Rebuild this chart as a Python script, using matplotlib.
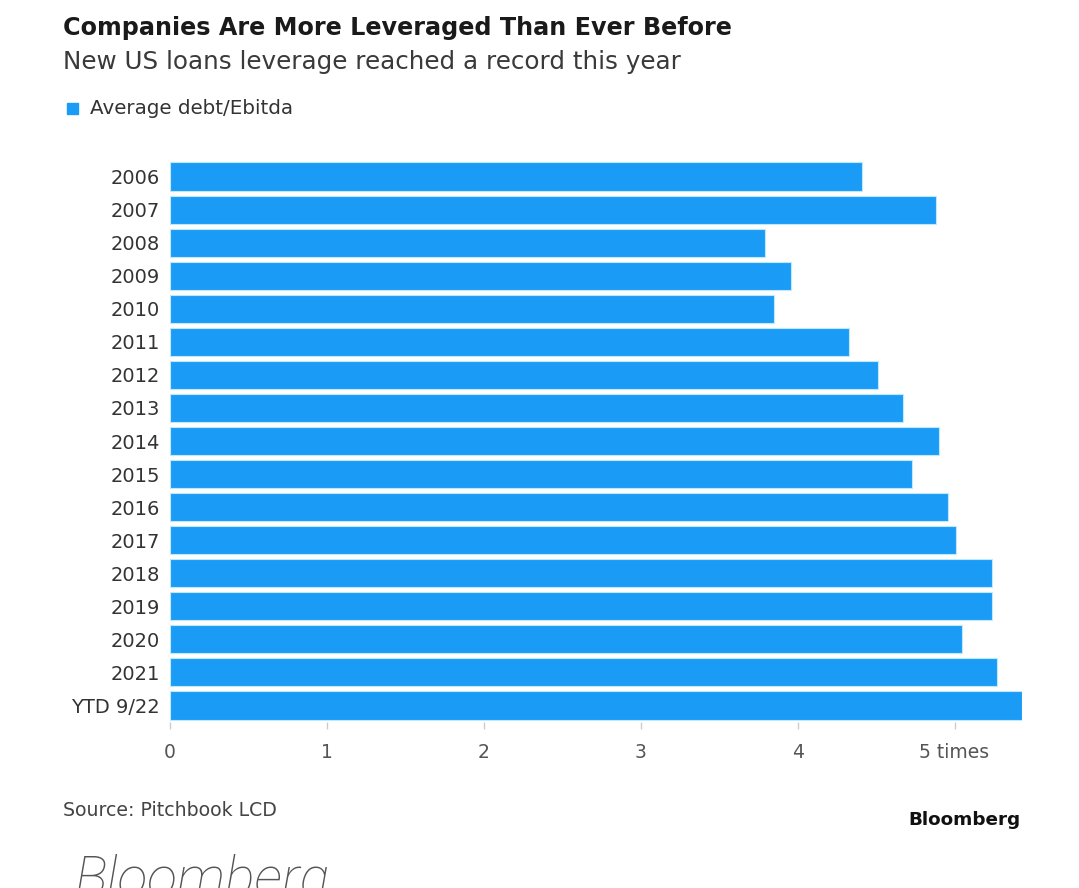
import matplotlib.pyplot as plt

years = ['2006', '2007', '2008', '2009', '2010', '2011', '2012', '2013', '2014',
         '2015', '2016', '2017', '2018', '2019', '2020', '2021', 'YTD 9/22']
leverage = [4.41, 4.88, 3.79, 3.96, 3.85, 4.33, 4.51, 4.67, 4.90,
            4.73, 4.96, 5.01, 5.24, 5.24, 5.05, 5.27, 5.43]
xticks = [0, 1, 2, 3, 4, 5]
xtick_labels = ['0', '1', '2', '3', '4', '5 times']

bar_color = '#1a9bf6'
plt.rcParams['font.family'] = ['DejaVu Sans']

fig = plt.figure(figsize=(10.79, 8.88), dpi=100)
W, H = 1079, 888
ax = fig.add_axes([170 / W, 1 - 722 / H, (1022 - 170) / W, (722 - 160) / H])

pos = list(range(len(years)))
ax.barh(pos, leverage, height=0.85, color=bar_color, edgecolor='#bfe9ff', linewidth=0.8)
ax.set_ylim(len(years) - 0.5, -0.5)
ax.set_xlim(0, 5.43)
ax.set_yticks(pos)
ax.set_yticklabels(years, fontsize=14, color='#333333')
ax.set_xticks(xticks)
ax.set_xticklabels(xtick_labels, fontsize=13.5, color='#555555')
ax.tick_params(axis='y', length=0, pad=7)
ax.tick_params(axis='x', length=5, width=1, color='#cccccc', pad=10, direction='out')
for s in ax.spines.values():
    s.set_visible(False)

# header
fig.text(63 / W, 1 - 28 / H, 'Companies Are More Leveraged Than Ever Before',
         fontsize=17.2, fontweight='bold', color='#1a1a1a', va='center')
fig.text(63 / W, 1 - 62 / H, 'New US loans leverage reached a record this year',
         fontsize=17.7, color='#3a3a3a', va='center')
fig.patches.append(plt.Rectangle((67 / W, 1 - 114 / H), 11 / W, 11 / H,
                                 transform=fig.transFigure, color=bar_color))
fig.text(90 / W, 1 - 108 / H, 'Average debt/Ebitda', fontsize=14.3,
         color='#333333', va='center')

# footer
fig.text(63 / W, 1 - 810 / H, 'Source: Pitchbook LCD', fontsize=13.6,
         color='#444444', va='center')
fig.text(1020 / W, 1 - 820 / H, 'Bloomberg', fontsize=13.2, fontweight='bold',
         color='#111111', va='center', ha='right')
fig.text(75 / W, 1 - 853 / H, 'Bloomberg', fontsize=40, style='italic',
         color='#555555', va='top', family=['Roboto', 'DejaVu Sans'], fontweight='light')

fig.savefig('out.png', dpi=100)
